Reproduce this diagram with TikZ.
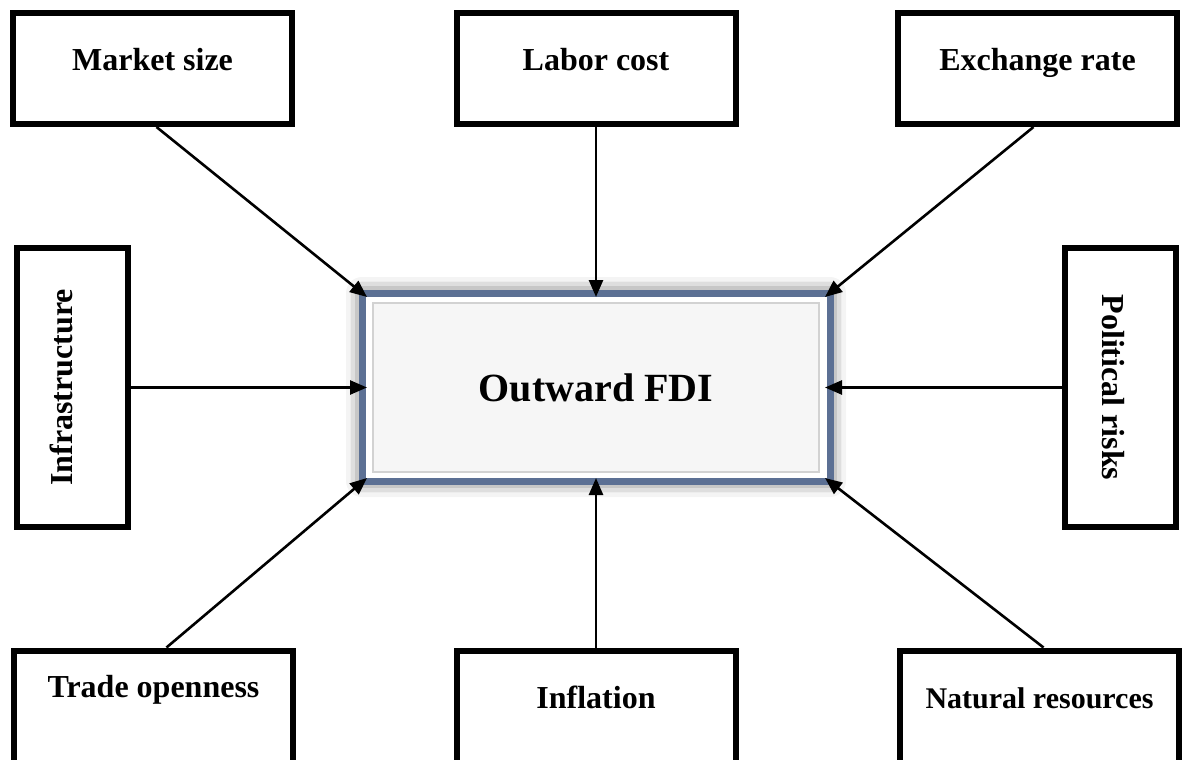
\documentclass[tikz,border=0pt]{standalone}
\usepackage{fontspec}
\setmainfont{Liberation Serif}
\usetikzlibrary{arrows.meta, positioning, shadows.blur}
\definecolor{framegray}{RGB}{92,112,148}
\definecolor{fdifill}{RGB}{246,246,246}
\tikzset{
  factor/.style={draw, line width=3pt, inner sep=0pt, minimum width=139.5pt, minimum height=55.5pt,
    font=\bfseries\fontsize{16}{19}\selectfont, text height=12pt, text depth=10pt},
  lowfactor/.style={factor, minimum height=58pt, text height=11pt, text depth=11pt},
  link/.style={->, draw=black, line width=1.3pt},
  fdiframe/.style={draw=framegray, line width=3.5pt, fill=white,
    blur shadow={shadow xshift=0pt, shadow yshift=0pt, shadow blur radius=8pt, shadow opacity=70}},
  fdi/.style={draw=gray!35, line width=0.75pt, fill=fdifill, inner sep=0pt, outer sep=3pt,
    minimum width=223pt, minimum height=84.5pt, font=\bfseries\fontsize{20}{24}\selectfont}
}
\begin{document}
\begin{tikzpicture}[>={Triangle[length=8.5pt,width=7pt,fill=black]}, x=0.5pt, y=-0.5pt]
  \useasboundingbox (0,0) rectangle (1184,760);

  % centre box
  \draw[fdiframe] (362,293) rectangle (830,481);
  \node[fdi] (fdi) at (596,387.5) {Outward FDI};

  % factors
  \node[factor] (market) at (152.5,68.5) {Market size};
  \node[factor] (labor) at (596,68.5) {Labor cost};
  \node[factor] (exchange) at (1037.5,68.5) {Exchange rate};
  \node[factor, rotate=90, text height=11pt, text depth=11pt] (infra) at (72.5,387.5) {Infrastructure};
  \node[factor, rotate=-90, text height=19pt, text depth=0.5pt] (political) at (1120.5,387.5) {Political risks};
  \node[lowfactor, text height=6pt, text depth=17pt] (trade) at (153.5,708.5) {Trade openness};
  \node[lowfactor] (inflation) at (596,708.5) {Inflation};
  \node[lowfactor, font=\bfseries\fontsize{15}{18}\selectfont] (natural) at (1039.5,708.5) {Natural resources};

  \draw[link] ([xshift=2pt]market.south) -- (fdi.north west);
  \draw[link] (labor.south) -- (fdi.north);
  \draw[link] ([xshift=-2pt]exchange.south) -- (fdi.north east);
  \draw[link] (infra.south) -- (fdi.west);
  \draw[link] (political.south) -- (fdi.east);
  \draw[link] ([xshift=6.5pt]trade.north) -- (fdi.south west);
  \draw[link] (inflation.north) -- (fdi.south);
  \draw[link] ([xshift=2pt]natural.north) -- (fdi.south east);
\end{tikzpicture}
\end{document}
